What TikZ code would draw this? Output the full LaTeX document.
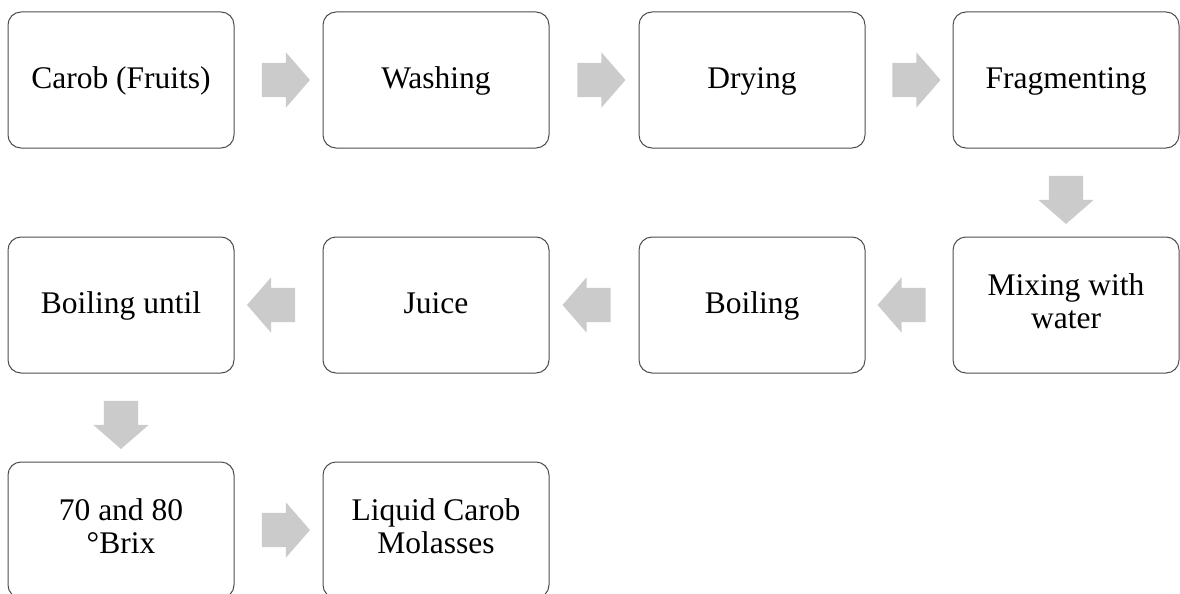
\documentclass[tikz,border=0pt]{standalone}
\usepackage{fontspec}
\setmainfont{Liberation Serif}
\usetikzlibrary{shapes.arrows,calc}

\definecolor{boxline}{HTML}{4D4D4D}
\definecolor{arrowfill}{HTML}{CBCBCB}

% fixed line strut so every line sits on the same baseline grid
\newcommand{\linestrut}{\rule[-7.5pt]{0pt}{32.5pt}}

\tikzset{
  stepbox/.style={draw=boxline, line width=1pt, rounded corners=13pt,
    minimum width=226pt, minimum height=136pt, align=center,
    inner sep=0pt, font=\fontsize{31.5}{32.5}\selectfont,
    execute at begin node=\linestrut},
  flowarrow/.style={single arrow, fill=arrowfill, draw=none,
    minimum height=48pt, inner xsep=0pt, inner ysep=17pt,
    single arrow head extend=10.5pt, single arrow tip angle=98},
  goright/.style={flowarrow},
  godown/.style={flowarrow, rotate=-90},
  goleft/.style={flowarrow, rotate=180}
}

\begin{document}
\begin{tikzpicture}[x=1pt, y=-1pt]
\useasboundingbox (0,0) rectangle (1180,594);

% first row, left to right
\node[stepbox] (carob) at (121,80)    {Carob (Fruits)};
\node[stepbox] (wash)  at (436,80)    {Washing};
\node[stepbox] (dry)   at (752,80)    {Drying};
\node[stepbox] (frag)  at (1066,80)   {Fragmenting};
% second row, right to left
\node[stepbox] (mix)   at (1066,305)  {Mixing with\\water\linestrut};
\node[stepbox] (boil)  at (752,305)   {Boiling};
\node[stepbox] (juice) at (436,305)   {Juice};
\node[stepbox] (until) at (121,305)   {Boiling until};
% third row
\node[stepbox] (brix)  at (121,530)   {70 and 80\\°Brix\linestrut};
\node[stepbox] (mol)   at (436,530)   {Liquid Carob\\Molasses\linestrut};

% block arrows between the steps
\node[goright] (a1)  at ($(carob.east)!0.5!(wash.west)$) {};
\node[goright] (a2)  at ($(wash.east)!0.5!(dry.west)$)   {};
\node[goright] (a3)  at ($(dry.east)!0.5!(frag.west)$)   {};
\node[godown]  (a4)  at ($(frag.south)!0.5!(mix.north)$) {};
\node[goleft]  (a5)  at ($(mix.west)!0.5!(boil.east)$)   {};
\node[goleft]  (a6)  at ($(boil.west)!0.5!(juice.east)$) {};
\node[goleft]  (a7)  at ($(juice.west)!0.5!(until.east)$) {};
\node[godown]  (a8)  at ($(until.south)!0.5!(brix.north)$) {};
\node[goright] (a9)  at ($(brix.east)!0.5!(mol.west)$)   {};
\end{tikzpicture}
\end{document}
